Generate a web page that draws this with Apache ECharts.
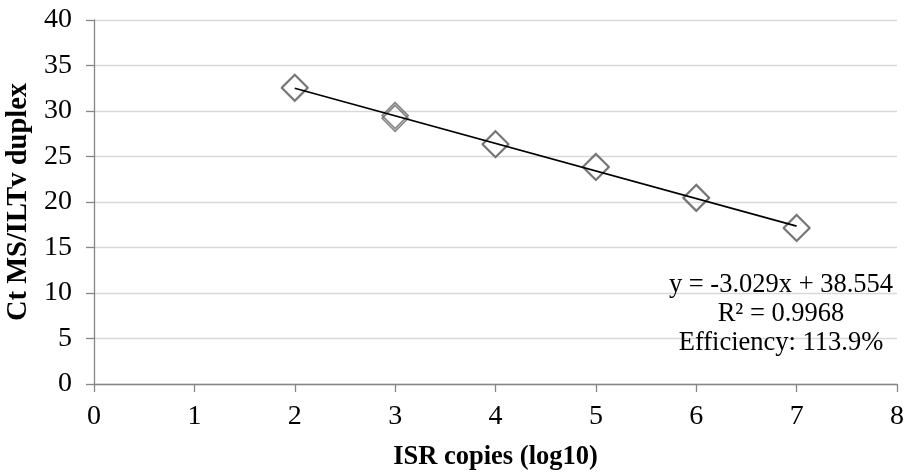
<!DOCTYPE html>
<html>
<head>
<meta charset="utf-8">
<script src="https://cdn.jsdelivr.net/npm/echarts@6/dist/echarts.min.js"></script>
<style>html,body{margin:0;padding:0;background:#fff}#c{width:907px;height:472px}</style>
</head>
<body>
<div id="c"></div>
<script>
var xValues = [2, 2, 3, 3, 4, 4, 5, 5, 6, 6, 7, 7];
var ctValues = [32.6, 32.5, 29.5, 29.2, 26.4, 26.3, 23.9, 23.8, 20.5, 20.4, 17.2, 17.1];
var trendX = [2, 7];
var trendY = [32.50, 17.35];
var equationLines = ['y = -3.029x + 38.554', 'R² = 0.9968', 'Efficiency: 113.9%'];
var xTitle = 'ISR copies (log10)';
var yTitle = 'Ct MS/ILTv duplex';

var font = 'Liberation Serif, Times New Roman, serif';
var chart = echarts.init(document.getElementById('c'));
chart.setOption({
  animation: false,
  backgroundColor: '#fff',
  grid: { left: 94, right: 10, top: 20, bottom: 88, containLabel: false, outerBoundsMode: 'none' },
  xAxis: {
    type: 'value', min: 0, max: 8, interval: 1,
    name: xTitle, nameLocation: 'middle', nameGap: 60,
    nameTextStyle: { fontFamily: font, fontSize: 26.5, fontWeight: 'bold', color: '#000' },
    axisLine: { show: true, lineStyle: { color: '#868686', width: 1.3 } },
    axisTick: { show: true, length: 8, lineStyle: { color: '#868686', width: 1.3 } },
    axisLabel: { fontFamily: font, fontSize: 28, color: '#000', margin: 19 },
    splitLine: { show: false }
  },
  yAxis: {
    type: 'value', min: 0, max: 40, interval: 5,
    name: yTitle, nameLocation: 'middle', nameGap: 58, nameRotate: 90,
    nameTextStyle: { fontFamily: font, fontSize: 28.5, fontWeight: 'bold', color: '#000' },
    axisLine: { show: true, lineStyle: { color: '#868686', width: 1.3 } },
    axisTick: { show: true, length: 8, lineStyle: { color: '#868686', width: 1.3 } },
    axisLabel: { fontFamily: font, fontSize: 28, color: '#000', margin: 22 },
    splitLine: { show: true, lineStyle: { color: '#d9d9d9', width: 1.3 } }
  },
  series: [
    {
      type: 'scatter',
      data: xValues.map(function (x, i) { return [x, ctValues[i]]; }),
      symbol: 'diamond', symbolSize: 26,
      itemStyle: { color: 'rgba(0,0,0,0)', borderColor: '#6a6a6a', borderWidth: 1.7 },
      z: 2
    },
    {
      type: 'line',
      data: trendX.map(function (x, i) { return [x, trendY[i]]; }),
      showSymbol: false, symbol: 'none',
      lineStyle: { color: '#000', width: 1.6 },
      z: 3
    }
  ],
  graphic: [{
    type: 'text',
    x: 781, y: 314,
    style: {
      text: equationLines.join('\n'),
      font: '26.5px ' + font,
      fill: '#000',
      align: 'center',
      verticalAlign: 'middle',
      lineHeight: 29
    },
    z: 10
  }]
});
</script>
</body>
</html>
